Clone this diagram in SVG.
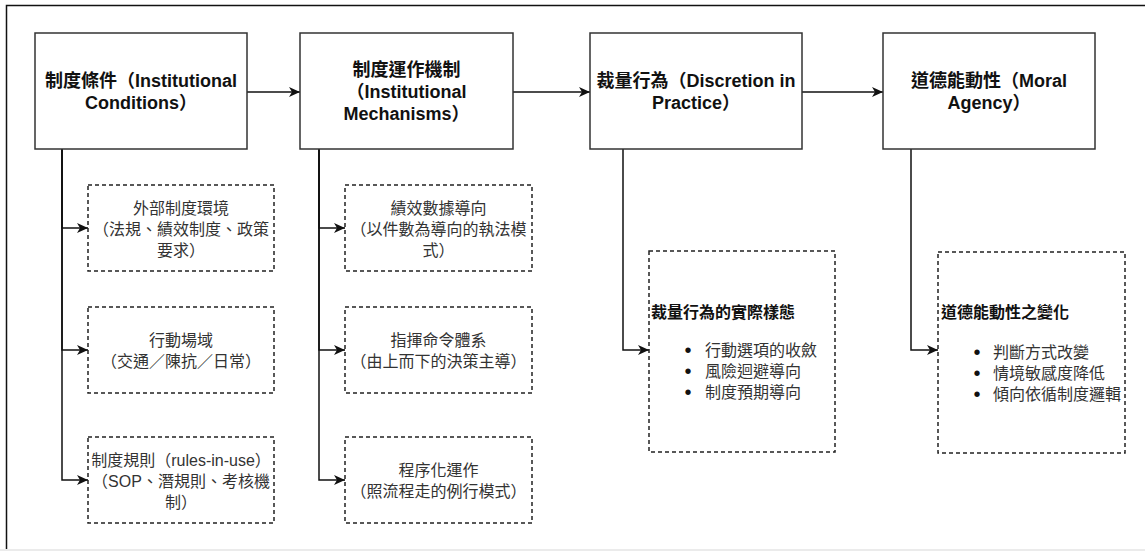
<svg xmlns="http://www.w3.org/2000/svg" width="1145" height="551" viewBox="0 0 1145 551">
  <style>
    .main { fill: #ffffff; stroke: #333333; stroke-width: 1.5; }
    .dash { fill: #ffffff; stroke: #222222; stroke-width: 1.5; stroke-dasharray: 4 3; }
    .t { font-family: "Liberation Sans", "Noto Sans CJK TC", sans-serif; }
    .mt { font-size: 18px; font-weight: bold; fill: #111111; text-anchor: middle; }
    .st { font-size: 16px; fill: #333333; text-anchor: middle; }
    .bt { font-size: 16px; font-weight: bold; fill: #111111; }
    .li { font-size: 16px; fill: #333333; }
    .bu { font-size: 20px; fill: #111111; text-anchor: middle; }
    .edge { fill: none; stroke: #111111; stroke-width: 1.5; }
  </style>
  <defs>
    <marker id="arrow" markerUnits="userSpaceOnUse" markerWidth="12" markerHeight="10" refX="11" refY="5" orient="auto">
      <path d="M0,0 L11,5 L0,10 L3,5 z" fill="#111111"/>
    </marker>
  </defs>
  <rect x="0" y="0" width="1145" height="551" fill="#ffffff"/>
  <rect x="0" y="549" width="1145" height="2" fill="#ebebeb"/>
  <g id="frame">
    <path d="M6.5,549 L6.5,5.5 L1145,5.5" fill="none" stroke="#111111" stroke-width="1.5"/>
  </g>

  <g id="connectors">
    <path class="edge" d="M247,92 L300,92" marker-end="url(#arrow)"/>
    <path class="edge" d="M513,92 L590,92" marker-end="url(#arrow)"/>
    <path class="edge" d="M802,92 L883,92" marker-end="url(#arrow)"/>

    <path class="edge" d="M62,149 L62,228 L88,228" marker-end="url(#arrow)"/>
    <path class="edge" d="M62,149 L62,350 L88,350" marker-end="url(#arrow)"/>
    <path class="edge" d="M62,149 L62,480 L88,480" marker-end="url(#arrow)"/>

    <path class="edge" d="M319,149 L319,228 L345,228" marker-end="url(#arrow)"/>
    <path class="edge" d="M319,149 L319,350 L345,350" marker-end="url(#arrow)"/>
    <path class="edge" d="M319,149 L319,480 L345,480" marker-end="url(#arrow)"/>

    <path class="edge" d="M623,149 L623,350 L649,350" marker-end="url(#arrow)"/>
    <path class="edge" d="M911,149 L911,350 L938,350" marker-end="url(#arrow)"/>
  </g>

  <g id="node-conditions">
    <rect class="main" x="35" y="33" width="212" height="116"/>
    <text class="t mt" x="141" y="86.5">制度條件（Institutional</text>
    <text class="t mt" x="141" y="108.5">Conditions）</text>
  </g>
  <g id="node-mechanisms">
    <rect class="main" x="300" y="33" width="213" height="116"/>
    <text class="t mt" x="406.5" y="75.5">制度運作機制</text>
    <text class="t mt" x="406.5" y="97.5">（Institutional</text>
    <text class="t mt" x="406.5" y="119.5">Mechanisms）</text>
  </g>
  <g id="node-discretion">
    <rect class="main" x="590" y="33" width="212" height="116"/>
    <text class="t mt" x="696" y="86.5">裁量行為（Discretion in</text>
    <text class="t mt" x="696" y="108.5">Practice）</text>
  </g>
  <g id="node-agency">
    <rect class="main" x="883" y="33" width="212" height="116"/>
    <text class="t mt" x="989" y="86.5">道德能動性（Moral</text>
    <text class="t mt" x="989" y="108.5">Agency）</text>
  </g>

  <g id="node-external">
    <rect class="dash" x="88" y="185" width="186" height="86"/>
    <text class="t st" x="181" y="213.5">外部制度環境</text>
    <text class="t st" x="181" y="234.5">（法規、績效制度、政策</text>
    <text class="t st" x="181" y="255.5">要求）</text>
  </g>
  <g id="node-field">
    <rect class="dash" x="88" y="307" width="186" height="86"/>
    <text class="t st" x="181" y="346">行動場域</text>
    <text class="t st" x="181" y="367">（交通／陳抗／日常）</text>
  </g>
  <g id="node-rules">
    <rect class="dash" x="88" y="437" width="186" height="86"/>
    <text class="t st" x="181" y="465.5">制度規則（rules-in-use）</text>
    <text class="t st" x="181" y="486.5">（SOP、潛規則、考核機</text>
    <text class="t st" x="181" y="507.5">制）</text>
  </g>

  <g id="node-performance">
    <rect class="dash" x="345" y="185" width="187" height="86"/>
    <text class="t st" x="438.5" y="213.5">績效數據導向</text>
    <text class="t st" x="438.5" y="234.5">（以件數為導向的執法模</text>
    <text class="t st" x="438.5" y="255.5">式）</text>
  </g>
  <g id="node-command">
    <rect class="dash" x="345" y="307" width="187" height="86"/>
    <text class="t st" x="438.5" y="346">指揮命令體系</text>
    <text class="t st" x="438.5" y="367">（由上而下的決策主導）</text>
  </g>
  <g id="node-procedure">
    <rect class="dash" x="345" y="437" width="187" height="86"/>
    <text class="t st" x="438.5" y="476">程序化運作</text>
    <text class="t st" x="438.5" y="497">（照流程走的例行模式）</text>
  </g>

  <g id="node-discretion-forms">
    <rect class="dash" x="649" y="251" width="186" height="201"/>
    <text class="t bt" x="651" y="317.5">裁量行為的實際樣態</text>
    <text class="t bu" x="688" y="357">•</text>
    <text class="t li" x="705" y="355.5">行動選項的收斂</text>
    <text class="t bu" x="688" y="378">•</text>
    <text class="t li" x="705" y="376.5">風險迴避導向</text>
    <text class="t bu" x="688" y="399">•</text>
    <text class="t li" x="705" y="397.5">制度預期導向</text>
  </g>
  <g id="node-agency-change">
    <rect class="dash" x="938" y="252" width="187" height="201"/>
    <text class="t bt" x="941" y="317.5">道德能動性之變化</text>
    <text class="t bu" x="977" y="359">•</text>
    <text class="t li" x="993" y="357.5">判斷方式改變</text>
    <text class="t bu" x="977" y="380">•</text>
    <text class="t li" x="993" y="378.5">情境敏感度降低</text>
    <text class="t bu" x="977" y="401">•</text>
    <text class="t li" x="993" y="399.5">傾向依循制度邏輯</text>
  </g>
</svg>
